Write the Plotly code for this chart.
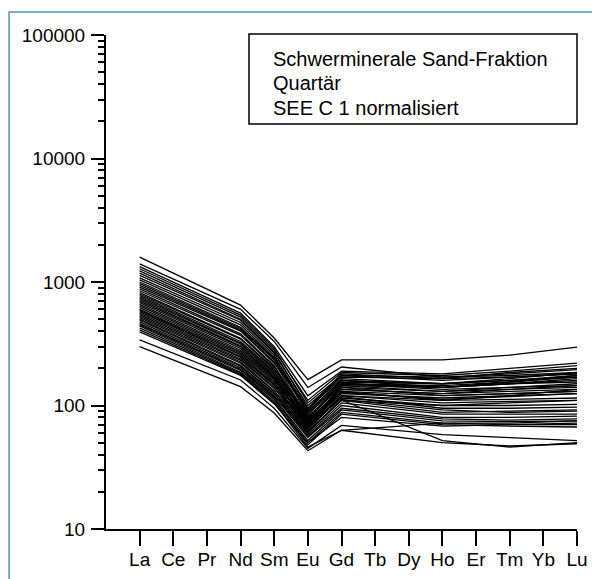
import plotly.graph_objects as go

elements = ["La", "Ce", "Pr", "Nd", "Sm", "Eu", "Gd", "Tb", "Dy", "Ho", "Er", "Tm", "Yb", "Lu"]

La = [1590, 1400, 1330, 1280, 1230, 1180, 1130, 1080, 1040, 1000, 970, 940, 910, 880, 850,
      820, 800, 780, 760, 740, 720, 700, 680, 660, 640, 620, 600, 590, 575, 560, 545, 530,
      515, 500, 490, 475, 460, 450, 440, 425, 410, 395, 340, 300]
Nd = [650, 600, 560, 540, 520, 500, 490, 470, 450, 430, 420, 410, 400, 380, 370,
      350, 345, 330, 320, 315, 305, 300, 290, 280, 272, 265, 258, 250, 245, 238, 232, 225,
      220, 212, 208, 202, 196, 192, 186, 182, 178, 175, 161, 142]
Sm = [352, 330, 300, 290, 280, 270, 265, 255, 245, 240, 235, 225, 220, 210, 205,
      200, 195, 190, 185, 180, 175, 170, 168, 165, 160, 155, 150, 148, 145, 140, 138, 132,
      130, 126, 124, 120, 118, 115, 112, 108, 105, 103, 95, 87]
Eu = [162, 140, 120, 105, 110, 95, 100, 90, 92, 85, 88, 80, 95, 78, 82,
      75, 85, 72, 80, 70, 76, 68, 74, 66, 72, 64, 78, 62, 70, 60, 68, 58,
      65, 56, 62, 55, 60, 52, 50, 48, 46, 50, 45, 43]
Gd = [234, 205, 190, 175, 185, 165, 170, 160, 175, 150, 160, 145, 180, 150, 140,
      135, 155, 130, 145, 125, 150, 120, 140, 115, 135, 118, 150, 110, 130, 112, 128, 105,
      120, 100, 110, 95, 111, 92, 88, 85, 63, 80, 69, 63]
Ho = [234, 170, 180, 160, 175, 150, 165, 140, 170, 135, 150, 130, 165, 140, 120,
      125, 150, 110, 140, 115, 145, 105, 130, 100, 125, 95, 140, 88, 120, 92, 112, 85,
      110, 80, 100, 78, 52, 75, 72, 70, 72, 68, 58, 50]
Tm = [256, 175, 200, 170, 190, 160, 185, 150, 180, 140, 160, 135, 170, 150, 125,
      130, 165, 112, 150, 120, 155, 108, 140, 100, 135, 95, 155, 90, 125, 88, 118, 85,
      120, 80, 105, 76, 46, 74, 70, 68, 72, 70, 55, 47]
Lu = [297, 185, 220, 180, 210, 170, 200, 155, 195, 145, 175, 140, 180, 160, 130,
      135, 185, 115, 165, 125, 170, 110, 150, 102, 145, 97, 175, 92, 130, 90, 125, 85,
      135, 82, 110, 78, 50, 75, 70, 67, 75, 72, 52, 49]

y_tick_vals = [10, 100, 1000, 10000, 100000]
y_tick_text = ["10", "100", "1000", "10000", "100000"]

box_lines = ["Schwerminerale Sand-Fraktion", "Quartär", "SEE C 1 normalisiert"]
box_line_y = [0.9524, 0.9028, 0.8532]

fig = go.Figure()
for i in range(len(La)):
    yv = [La[i], None, None, Nd[i], Sm[i], Eu[i], Gd[i], None, None, Ho[i], None, Tm[i], None, Lu[i]]
    fig.add_trace(go.Scatter(
        x=list(range(len(elements))), y=yv, mode="lines", connectgaps=True,
        line=dict(color="black", width=1.3), showlegend=False, hoverinfo="skip"))

font = "Liberation Sans, Arial, sans-serif"
fig.update_layout(
    width=592, height=579,
    margin=dict(l=106, r=15, t=35, b=50),
    paper_bgcolor="white", plot_bgcolor="white",
    font=dict(family=font, size=19, color="black"),
    xaxis=dict(
        range=[-1, 13], tickmode="array", tickvals=list(range(len(elements))),
        ticktext=elements, showgrid=False, zeroline=False, automargin=False,
        showline=True, linecolor="black", linewidth=2,
        ticks="outside", ticklen=15, tickwidth=2, tickcolor="black",
        tickfont=dict(size=19), ticklabelstandoff=-3,
    ),
    yaxis=dict(
        type="log", range=[1, 5], tickmode="array", tickvals=y_tick_vals,
        ticktext=y_tick_text, showgrid=False, zeroline=False, automargin=False,
        showline=True, linecolor="black", linewidth=2,
        ticks="outside", ticklen=13, tickwidth=2, tickcolor="black",
        tickfont=dict(size=19), ticklabelstandoff=2,
        minor=dict(ticks="outside", ticklen=6, tickwidth=1.5, tickcolor="black",
                   tickvals=[m * 10 ** e for e in range(1, 5) for m in range(2, 10)],
                   showgrid=False),
    ),
    shapes=[
        dict(type="rect", xref="paper", yref="paper", x0=-0.2059, x1=1.2, y0=-0.3, y1=1.0466,
             line=dict(color="#5b93b5", width=1.5), fillcolor="rgba(0,0,0,0)", layer="below"),
        dict(type="rect", xref="paper", yref="paper", x0=0.3036, x1=1.0, y0=0.8198, y1=1.002,
             line=dict(color="black", width=1.5), fillcolor="white"),
    ],
    annotations=[
        dict(xref="paper", yref="paper", x=0.3503, y=yy, xanchor="left", yanchor="middle",
             align="left", showarrow=False, text=t, font=dict(size=20, family=font))
        for t, yy in zip(box_lines, box_line_y)
    ],
)
fig.write_html("out.html")
